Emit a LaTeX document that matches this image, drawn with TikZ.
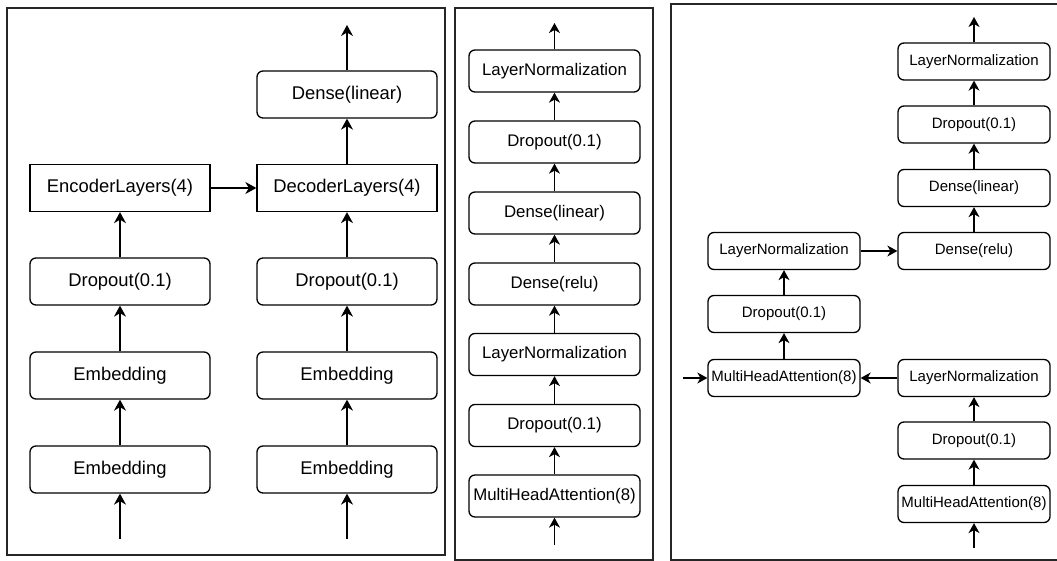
\documentclass[tikz,border=0pt]{standalone}
\usepackage{fontspec}
\setmainfont{Liberation Sans}
\usetikzlibrary{arrows.meta}

\tikzset{
    layer/.style={draw, line width=1.3pt, rounded corners=6pt, inner sep=0pt, align=center},
    stack/.style={draw, line width=1.3pt, inner sep=0pt, align=center},
    flow/.style={line width=1.3pt, -{Stealth[length=11pt, width=12pt, inset=3.5pt]}},
    flowsm/.style={line width=1.3pt, -{Stealth[length=10pt, width=11pt, inset=3pt]}},
    frame/.style={draw, line width=1.4pt, black!85}
}

\begin{document}
\begin{tikzpicture}[x=1pt, y=-1pt]
    \useasboundingbox (0, 0) rectangle (1057, 561);

    % Frames
    \draw[frame] (7, 8) rectangle (445, 555);
    \draw[frame] (455, 8) rectangle (653, 560);
    \draw[frame] (671, 4) rectangle (1065, 560);

    % Whole model
    \begin{scope}[every node/.append style={font=\fontsize{18.4}{22}\selectfont, minimum width=180pt, minimum height=47pt}]
        \node[stack] (enc) at (120, 188) {EncoderLayers(4)};
        \node[stack] (dec) at (347, 188) {DecoderLayers(4)};
        \node[layer] (lin) at (347, 94.5) {Dense(linear)};
        \node[layer] (encdrop) at (120, 281.5) {Dropout(0.1)};
        \node[layer] (decdrop) at (347, 281.5) {Dropout(0.1)};
        \node[layer] (encpos) at (120, 375.5) {Embedding};
        \node[layer] (decpos) at (347, 375.5) {Embedding};
        \node[layer] (enctok) at (120, 469.5) {Embedding};
        \node[layer] (dectok) at (347, 469.5) {Embedding};
    \end{scope}
    \coordinate (encin) at (120, 539);
    \coordinate (decin) at (347, 539);
    \coordinate (out) at (347, 25);

    \draw[flow] (encin) -- (enctok);
    \draw[flow] (enctok) -- (encpos);
    \draw[flow] (encpos) -- (encdrop);
    \draw[flow] (encdrop) -- (enc);
    \draw[flow] (decin) -- (dectok);
    \draw[flow] (dectok) -- (decpos);
    \draw[flow] (decpos) -- (decdrop);
    \draw[flow] (decdrop) -- (dec);
    \draw[flow] (enc) -- (dec);
    \draw[flow] (dec) -- (lin);
    \draw[flow] (lin) -- (out);

    % Encoder layer
    \begin{scope}[every node/.append style={font=\fontsize{16.8}{20}\selectfont, minimum width=171pt, minimum height=42pt, rounded corners=5pt}]
        \foreach \name/\y/\txt in {eatt/496/MultiHeadAttention(8), edrop/425.5/Dropout(0.1),
            enorm/354.5/LayerNormalization, erelu/284/Dense(relu), elin/213/Dense(linear),
            edrop2/142/Dropout(0.1), enorm2/71/LayerNormalization} {
            \node[layer] (\name) at (554.5, \y) {\txt};
        }
    \end{scope}
    \coordinate (ein) at (554.5, 545);
    \coordinate (eout) at (554.5, 23);

    \draw[flowsm] (ein) -- (eatt);
    \draw[flowsm] (eatt) -- (edrop);
    \draw[flowsm] (edrop) -- (enorm);
    \draw[flowsm] (enorm) -- (erelu);
    \draw[flowsm] (erelu) -- (elin);
    \draw[flowsm] (elin) -- (edrop2);
    \draw[flowsm] (edrop2) -- (enorm2);
    \draw[flowsm] (enorm2) -- (eout);

    % Decoder layer
    \begin{scope}[every node/.append style={font=\fontsize{15}{18}\selectfont, minimum width=152pt, minimum height=37pt, rounded corners=5pt}]
        \node[layer] (datt) at (974, 504) {MultiHeadAttention(8)};
        \node[layer] (ddrop) at (974, 440.5) {Dropout(0.1)};
        \node[layer] (dnorm) at (974, 378) {LayerNormalization};
        \node[layer] (xatt) at (784, 378) {MultiHeadAttention(8)};
        \node[layer] (xdrop) at (784, 314) {Dropout(0.1)};
        \node[layer] (xnorm) at (784, 251) {LayerNormalization};
        \node[layer] (drelu) at (974, 251) {Dense(relu)};
        \node[layer] (dlin) at (974, 188) {Dense(linear)};
        \node[layer] (ddrop2) at (974, 124.5) {Dropout(0.1)};
        \node[layer] (dnorm2) at (974, 61.5) {LayerNormalization};
    \end{scope}
    \coordinate (din) at (974, 548);
    \coordinate (xin) at (683, 378);
    \coordinate (dout) at (974, 17);

    \draw[flowsm] (din) -- (datt);
    \draw[flowsm] (datt) -- (ddrop);
    \draw[flowsm] (ddrop) -- (dnorm);
    \draw[flowsm] (dnorm) -- (xatt);
    \draw[flowsm] (xin) -- (xatt);
    \draw[flowsm] (xatt) -- (xdrop);
    \draw[flowsm] (xdrop) -- (xnorm);
    \draw[flowsm] (xnorm) -- (drelu);
    \draw[flowsm] (drelu) -- (dlin);
    \draw[flowsm] (dlin) -- (ddrop2);
    \draw[flowsm] (ddrop2) -- (dnorm2);
    \draw[flowsm] (dnorm2) -- (dout);
\end{tikzpicture}
\end{document}
